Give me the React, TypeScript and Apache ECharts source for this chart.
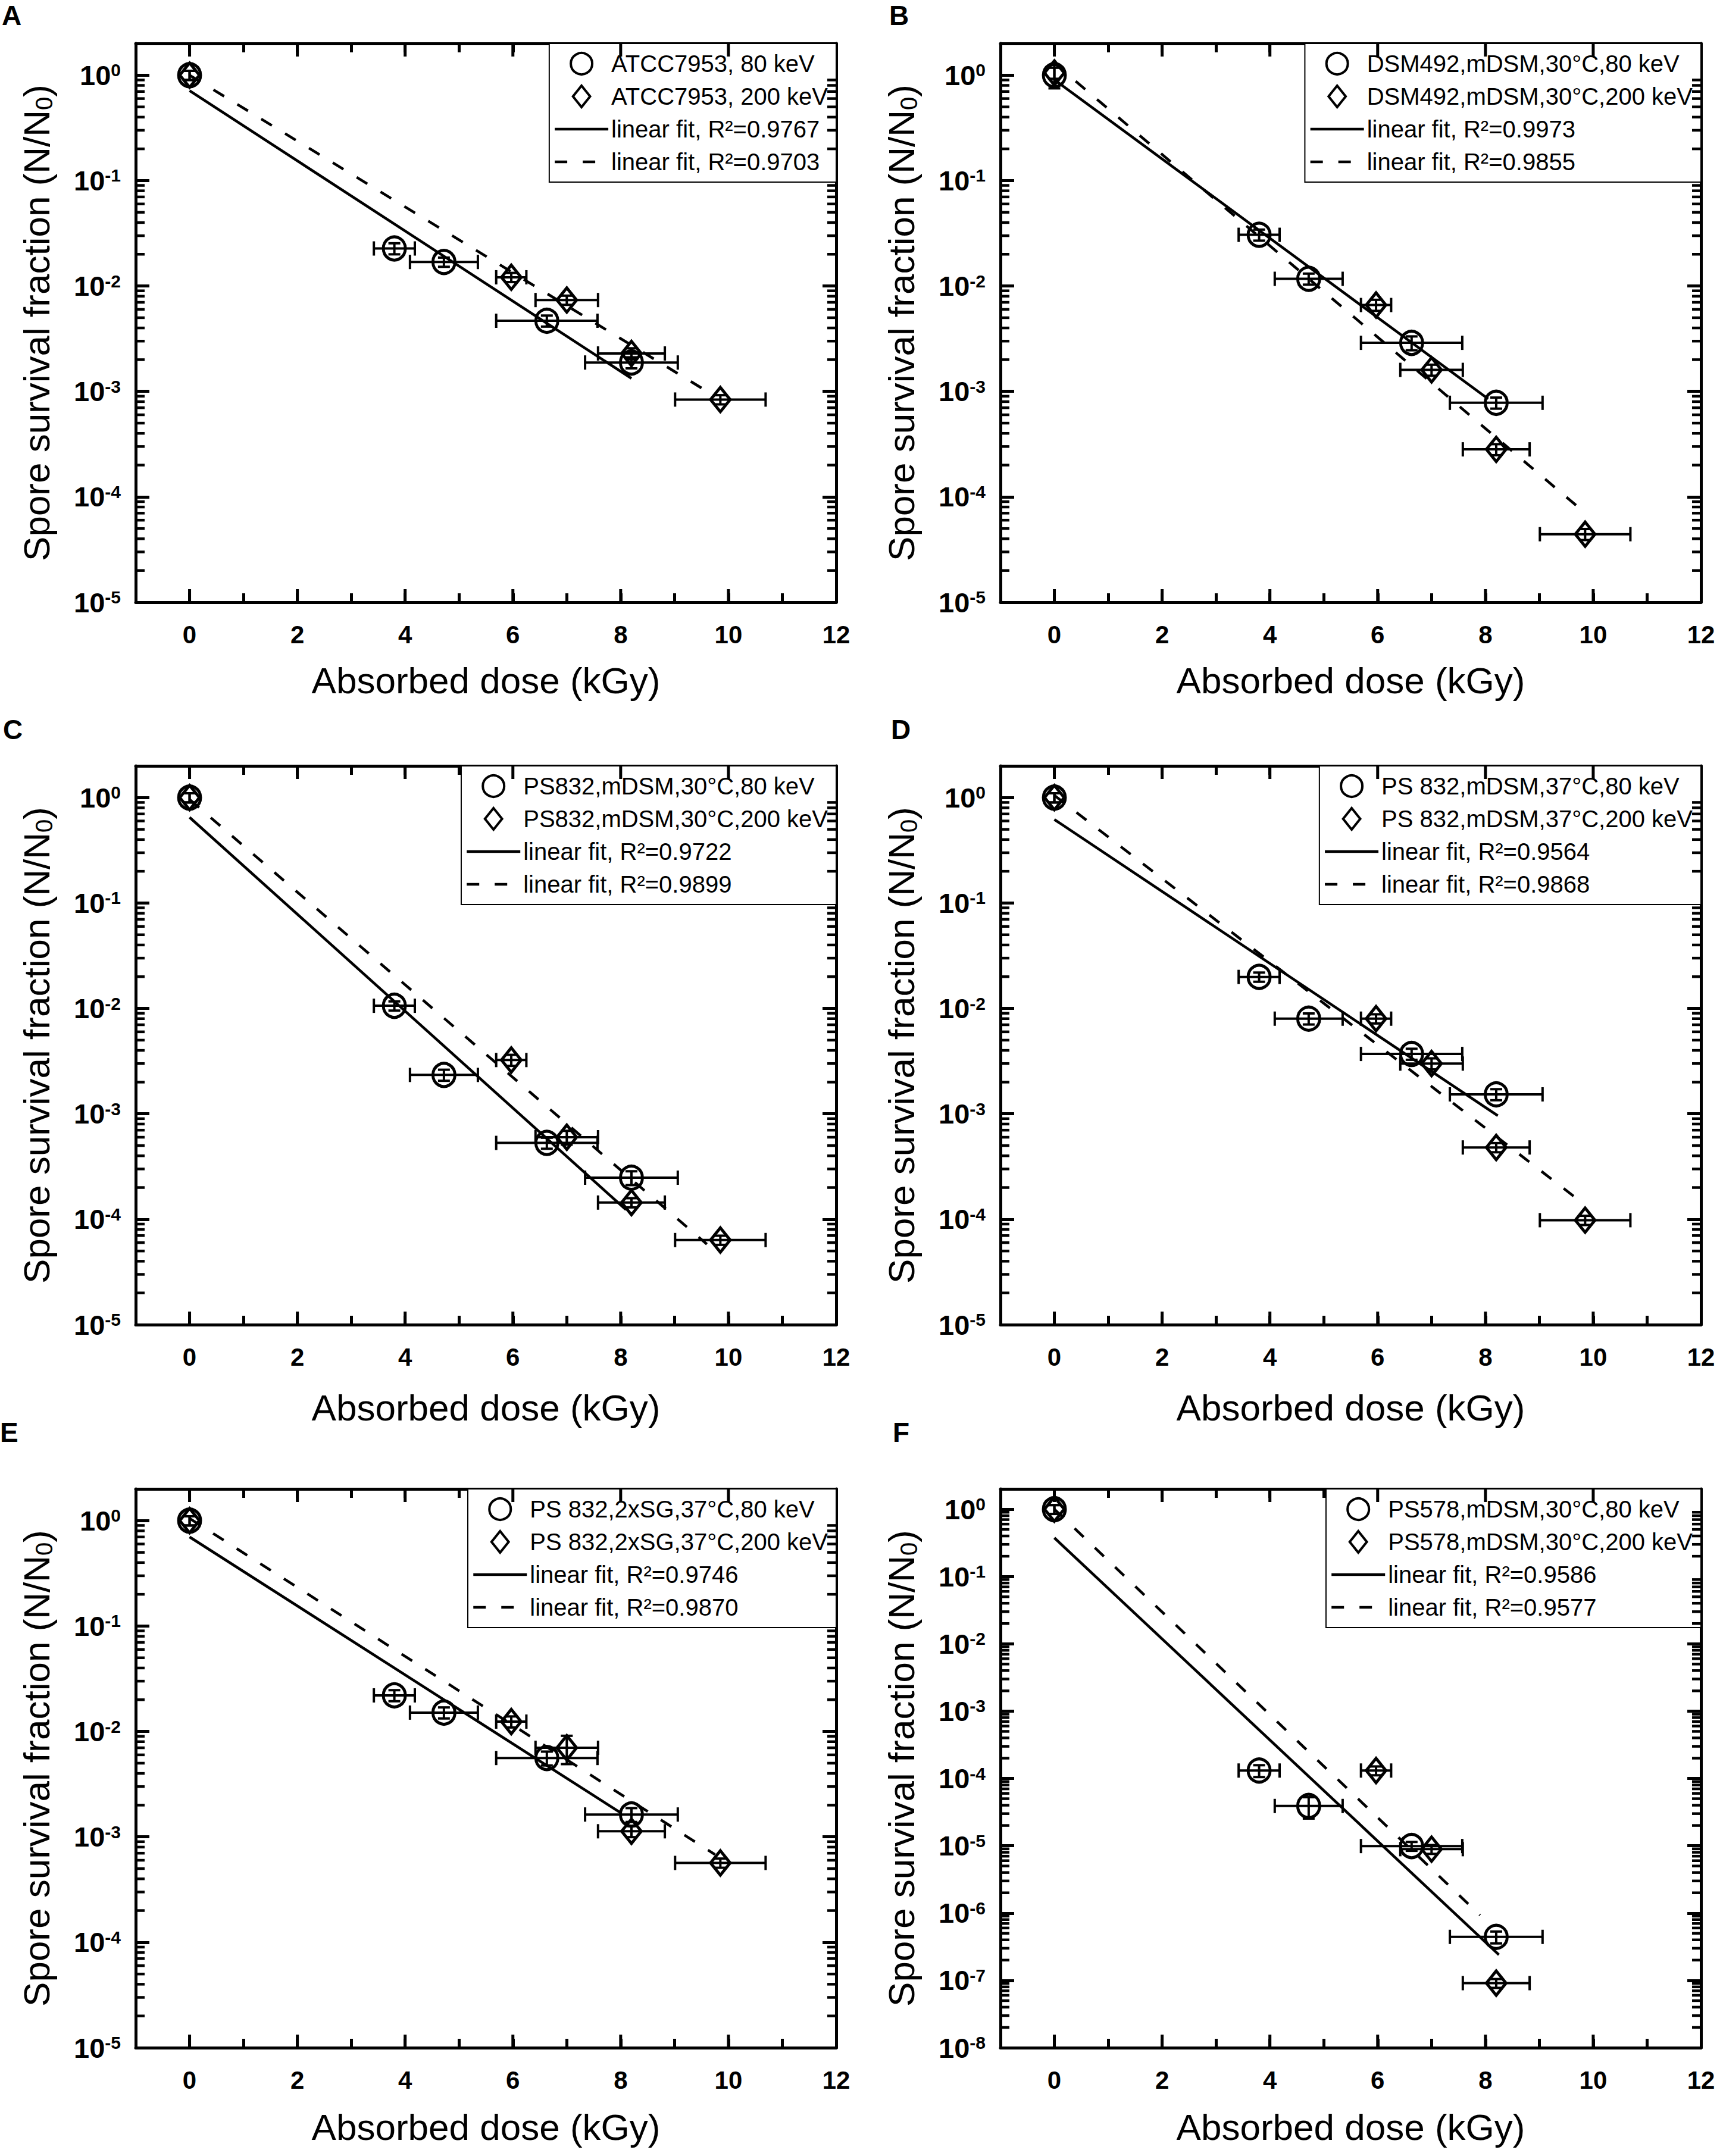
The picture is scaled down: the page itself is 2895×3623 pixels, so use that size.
import React, { useEffect, useRef } from 'react';
import * as echarts from 'echarts';

const W = 2895;
const H = 3623;
const FONT = '"Liberation Sans", Arial, Helvetica, sans-serif';

// Layout of the six plot boxes (pixels)
const COLS = [228, 1681];
const ROWS = [73, 1287, 2502];
const PW = 1177;
const PH = 939;
const X_NAME_GAP = [100, 108, 102];
const LETTER_POS = [[3, 3], [1494, 3], [5, 1203], [1497, 1203], [0, 2384], [1500, 2384]];

// Absorbed doses (kGy) and their horizontal errors
const DOSE_80 = [0, 3.8, 4.72, 6.63, 8.2];
const DOSE_80_ERR = [0, 0.38, 0.63, 0.94, 0.86];
const DOSE_200 = [0, 5.97, 7.0, 8.2, 9.85];
const DOSE_200_ERR = [0, 0.28, 0.58, 0.62, 0.84];
const DOSE_200_F = [0, 5.97, 7.0, 8.2];
const DOSE_200_F_ERR = [0, 0.28, 0.58, 0.62];

// Axis ticks
const X_MAJOR = [0, 2, 4, 6, 8, 10];
const MINOR_MANTISSA = [2, 3, 4, 5, 6, 7, 8, 9];
const DECADES_5 = [-5, -4, -3, -2, -1];
const DECADES_8 = [-8, -7, -6, -5, -4, -3, -2, -1];

// Panel A
const A_NAMES = ['ATCC7953, 80 keV', 'ATCC7953, 200 keV'];
const A_80 = [1.0, 0.0227, 0.0169, 0.00468, 0.00188];
const A_80_YERR = [0.1, 0.12, 0.1, 0.12, 0.12];
const A_200 = [1.0, 0.0121, 0.00736, 0.00229, 0.000837];
const A_200_YERR = [0.1, 0.1, 0.1, 0.12, 0.1];
const A_FIT_80 = [[0, 0.713], [8.2, 0.00133]];
const A_FIT_200 = [[0, 1.0], [9.75, 0.0009]];
const A_R2 = ['0.9767', '0.9703'];

// Panel B
const B_NAMES = ['DSM492,mDSM,30°C,80 keV', 'DSM492,mDSM,30°C,200 keV'];
const B_80 = [1.0, 0.0306, 0.0117, 0.00289, 0.00078];
const B_80_YERR = [0.25, 0.12, 0.12, 0.15, 0.12];
const B_200 = [1.05, 0.0066, 0.0016, 0.000282, 0.0000442];
const B_200_YERR = [0.12, 0.12, 0.12, 0.12, 0.12];
const B_FIT_80 = [[0, 0.906], [8.05, 0.00085]];
const B_FIT_200 = [[0, 1.3], [9.72, 0.00008]];
const B_R2 = ['0.9973', '0.9855'];

// Panel C
const C_NAMES = ['PS832,mDSM,30°C,80 keV', 'PS832,mDSM,30°C,200 keV'];
const C_80 = [1.0, 0.0106, 0.00234, 0.00053, 0.000248];
const C_80_YERR = [0.1, 0.1, 0.12, 0.12, 0.15];
const C_200 = [1.0, 0.00324, 0.0006, 0.000144, 0.0000635];
const C_200_YERR = [0.1, 0.12, 0.15, 0.1, 0.1];
const C_FIT_80 = [[0, 0.65], [8.1, 0.000123]];
const C_FIT_200 = [[0, 0.96], [9.6, 0.000058]];
const C_R2 = ['0.9722', '0.9899'];

// Panel D
const D_NAMES = ['PS 832,mDSM,37°C,80 keV', 'PS 832,mDSM,37°C,200 keV'];
const D_80 = [1.0, 0.0199, 0.008, 0.0037, 0.00153];
const D_80_YERR = [0.1, 0.1, 0.12, 0.12, 0.12];
const D_200 = [1.0, 0.008, 0.003, 0.00048, 0.000098];
const D_200_YERR = [0.1, 0.1, 0.12, 0.1, 0.1];
const D_FIT_80 = [[0, 0.62], [8.23, 0.00096]];
const D_FIT_200 = [[0, 1.05], [9.83, 0.000139]];
const D_R2 = ['0.9564', '0.9868'];

// Panel E
const E_NAMES = ['PS 832,2xSG,37°C,80 keV', 'PS 832,2xSG,37°C,200 keV'];
const E_80 = [1.0, 0.022, 0.0151, 0.0056, 0.00163];
const E_80_YERR = [0.1, 0.12, 0.12, 0.15, 0.15];
const E_200 = [1.0, 0.0124, 0.007, 0.00113, 0.000566];
const E_200_YERR = [0.1, 0.12, 0.3, 0.12, 0.1];
const E_FIT_80 = [[0, 0.7], [8.01, 0.00168]];
const E_FIT_200 = [[0, 1.05], [9.75, 0.00068]];
const E_R2 = ['0.9746', '0.9870'];

// Panel F
const F_NAMES = ['PS578,mDSM,30°C,80 keV', 'PS578,mDSM,30°C,200 keV'];
const F_80 = [1.0, 0.000131, 0.000039, 0.0000099, 0.000000443];
const F_80_YERR = [0.15, 0.2, 0.35, 0.15, 0.2];
const F_200 = [1.0, 0.000131, 0.0000089, 0.000000091];
const F_200_YERR = [0.15, 0.15, 0.15, 0.15];
const F_FIT_80 = [[0, 0.375], [8.25, 0.00000024]];
const F_FIT_200 = [[0, 1.0], [7.9, 0.00000093]];
const F_R2 = ['0.9586', '0.9577'];

type Panel = {
  letter: string;
  names: string[];
  d80: number[]; d80e: number[]; s80: number[]; s80e: number[];
  d200: number[]; d200e: number[]; s200: number[]; s200e: number[];
  fit80: number[][]; fit200: number[][]; r2: string[];
  yMin: number; decades: number[];
};

const PANELS: Panel[] = [
  { letter: 'A', names: A_NAMES, d80: DOSE_80, d80e: DOSE_80_ERR, s80: A_80, s80e: A_80_YERR, d200: DOSE_200, d200e: DOSE_200_ERR, s200: A_200, s200e: A_200_YERR, fit80: A_FIT_80, fit200: A_FIT_200, r2: A_R2, yMin: 1e-5, decades: DECADES_5 },
  { letter: 'B', names: B_NAMES, d80: DOSE_80, d80e: DOSE_80_ERR, s80: B_80, s80e: B_80_YERR, d200: DOSE_200, d200e: DOSE_200_ERR, s200: B_200, s200e: B_200_YERR, fit80: B_FIT_80, fit200: B_FIT_200, r2: B_R2, yMin: 1e-5, decades: DECADES_5 },
  { letter: 'C', names: C_NAMES, d80: DOSE_80, d80e: DOSE_80_ERR, s80: C_80, s80e: C_80_YERR, d200: DOSE_200, d200e: DOSE_200_ERR, s200: C_200, s200e: C_200_YERR, fit80: C_FIT_80, fit200: C_FIT_200, r2: C_R2, yMin: 1e-5, decades: DECADES_5 },
  { letter: 'D', names: D_NAMES, d80: DOSE_80, d80e: DOSE_80_ERR, s80: D_80, s80e: D_80_YERR, d200: DOSE_200, d200e: DOSE_200_ERR, s200: D_200, s200e: D_200_YERR, fit80: D_FIT_80, fit200: D_FIT_200, r2: D_R2, yMin: 1e-5, decades: DECADES_5 },
  { letter: 'E', names: E_NAMES, d80: DOSE_80, d80e: DOSE_80_ERR, s80: E_80, s80e: E_80_YERR, d200: DOSE_200, d200e: DOSE_200_ERR, s200: E_200, s200e: E_200_YERR, fit80: E_FIT_80, fit200: E_FIT_200, r2: E_R2, yMin: 1e-5, decades: DECADES_5 },
  { letter: 'F', names: F_NAMES, d80: DOSE_80, d80e: DOSE_80_ERR, s80: F_80, s80e: F_80_YERR, d200: DOSE_200_F, d200e: DOSE_200_F_ERR, s200: F_200, s200e: F_200_YERR, fit80: F_FIT_80, fit200: F_FIT_200, r2: F_R2, yMin: 1e-8, decades: DECADES_8 },
];

const DASH = [21, 26];
const LINE_W = 4.5;
const DIAMOND_ICON = 'path://M16,0L32,20L16,40L0,20Z';

function errRender(params: any, api: any) {
  const x = api.value(0);
  const y = api.value(1);
  const xl = api.value(2);
  const xh = api.value(3);
  const yl = api.value(4);
  const yh = api.value(5);
  const st = { stroke: '#000', lineWidth: 4 };
  const CAP = 12;
  const children: any[] = [];
  if (xh > xl) {
    const a = api.coord([xl, y]);
    const b = api.coord([xh, y]);
    children.push({ type: 'line', shape: { x1: a[0], y1: a[1], x2: b[0], y2: b[1] }, style: st });
    children.push({ type: 'line', shape: { x1: a[0], y1: a[1] - CAP, x2: a[0], y2: a[1] + CAP }, style: st });
    children.push({ type: 'line', shape: { x1: b[0], y1: b[1] - CAP, x2: b[0], y2: b[1] + CAP }, style: st });
  }
  if (yh > yl) {
    const a = api.coord([x, yl]);
    const b = api.coord([x, yh]);
    const cap = 10;
    children.push({ type: 'line', shape: { x1: a[0], y1: a[1], x2: b[0], y2: b[1] }, style: st });
    children.push({ type: 'line', shape: { x1: a[0] - cap, y1: a[1], x2: a[0] + cap, y2: a[1] }, style: st });
    children.push({ type: 'line', shape: { x1: b[0] - cap, y1: b[1], x2: b[0] + cap, y2: b[1] }, style: st });
  }
  return { type: 'group', children };
}

function xTickRender(params: any, api: any) {
  const cs = params.coordSys;
  const px = api.coord([api.value(0), 1])[0];
  const st = { stroke: '#000', lineWidth: 5 };
  const yb = cs.y + cs.height;
  return {
    type: 'group',
    children: [
      { type: 'line', shape: { x1: px, y1: yb, x2: px, y2: yb - 22 }, style: st },
      { type: 'line', shape: { x1: px, y1: cs.y, x2: px, y2: cs.y + 22 }, style: st },
    ],
  };
}

function yMinorRender(params: any, api: any) {
  const cs = params.coordSys;
  const py = api.coord([0, api.value(1)])[1];
  const st = { stroke: '#000', lineWidth: 4.5 };
  const xr = cs.x + cs.width;
  return {
    type: 'group',
    children: [
      { type: 'line', shape: { x1: cs.x, y1: py, x2: cs.x + 15, y2: py }, style: st },
      { type: 'line', shape: { x1: xr, y1: py, x2: xr - 15, y2: py }, style: st },
    ],
  };
}

function yLabel(v: number) {
  const e = Math.log10(v);
  const r = Math.round(e);
  if (Math.abs(e - r) > 1e-6) return '';
  return `{b|10}{s|${r}}`;
}

function buildOption() {
  const grid: any[] = [];
  const xAxis: any[] = [];
  const yAxis: any[] = [];
  const series: any[] = [];
  const legend: any[] = [];
  const title: any[] = [];

  PANELS.forEach((p, i) => {
    const col = i % 2;
    const row = Math.floor(i / 2);
    const left = COLS[col];
    const top = ROWS[row];
    grid.push({ left, top, width: PW, height: PH, containLabel: false });

    const axisLine = { show: true, onZero: false, lineStyle: { color: '#000', width: 5 } };
    const xBase = {
      type: 'value', gridIndex: i, min: -1, max: 12, interval: 1,
      axisLine,
      axisTick: { show: true, inside: true, length: 15, lineStyle: { color: '#000', width: 5 } },
      splitLine: { show: false },
    };
    xAxis.push({
      ...xBase, position: 'bottom',
      axisLabel: {
        formatter: (v: number) => (v >= 0 && v % 2 === 0 ? String(v) : ''),
        fontSize: 42, fontWeight: 'bold', fontFamily: FONT, color: '#000', margin: 33,
      },
      name: 'Absorbed dose (kGy)', nameLocation: 'middle', nameGap: X_NAME_GAP[row],
      nameTextStyle: { fontSize: 62, fontFamily: FONT, color: '#000' },
    });
    xAxis.push({ ...xBase, position: 'top', axisLabel: { show: false } });

    const yBase = {
      type: 'log', logBase: 10, gridIndex: i, min: p.yMin, max: 2,
      axisLine,
      axisTick: { show: true, inside: true, length: 23, lineStyle: { color: '#000', width: 5 } },
      splitLine: { show: false },
      minorTick: { show: false },
    };
    yAxis.push({
      ...yBase, position: 'left',
      axisLabel: {
        formatter: yLabel, margin: 25,
        rich: {
          b: { fontSize: 47, fontWeight: 'bold', fontFamily: FONT, color: '#000' },
          s: { fontSize: 30, fontWeight: 'bold', fontFamily: FONT, color: '#000', verticalAlign: 'top' },
        },
      },
      name: 'Spore survival fraction (N/N{sub|0})', nameLocation: 'middle', nameGap: 134,
      nameTextStyle: {
        fontSize: 62, fontFamily: FONT, color: '#000', lineHeight: 66,
        rich: { sub: { fontSize: 40, fontFamily: FONT, color: '#000', verticalAlign: 'bottom', lineHeight: 44 } },
      },
    });
    yAxis.push({ ...yBase, position: 'right', axisLabel: { show: false } });

    const xi = 2 * i;
    const yi = 2 * i;
    const fitName80 = `linear fit, R²=${p.r2[0]}`;
    const fitName200 = `linear fit, R²=${p.r2[1]}`;

    series.push({
      type: 'custom', name: `xticks-${p.letter}`, xAxisIndex: xi, yAxisIndex: yi,
      data: X_MAJOR.map((v) => [v, 1]), encode: { x: 0, y: 1 }, renderItem: xTickRender, silent: true, z: 5, clip: false,
    });
    const minors: number[][] = [];
    p.decades.forEach((d) => MINOR_MANTISSA.forEach((m) => minors.push([0, m * Math.pow(10, d)])));
    series.push({
      type: 'custom', name: `yminor-${p.letter}`, xAxisIndex: xi, yAxisIndex: yi,
      data: minors, encode: { x: 0, y: 1 }, renderItem: yMinorRender, silent: true, z: 5, clip: false,
    });

    series.push({
      type: 'line', name: fitName80, xAxisIndex: xi, yAxisIndex: yi, data: p.fit80,
      symbol: 'none', showSymbol: false, z: 2,
      itemStyle: { color: '#000' },
      lineStyle: { color: '#000', width: LINE_W, type: 'solid' },
    });
    series.push({
      type: 'line', name: fitName200, xAxisIndex: xi, yAxisIndex: yi, data: p.fit200,
      symbol: 'none', showSymbol: false, z: 2,
      itemStyle: { color: '#000' },
      lineStyle: { color: '#000', width: LINE_W, type: DASH },
    });

    series.push({
      type: 'custom', name: `err80-${p.letter}`, xAxisIndex: xi, yAxisIndex: yi,
      data: p.d80.map((x, k) => [x, p.s80[k], x - p.d80e[k], x + p.d80e[k], p.s80[k] * (1 - p.s80e[k]), p.s80[k] * (1 + p.s80e[k])]),
      encode: { x: 0, y: 1 }, renderItem: errRender, silent: true, z: 3, clip: false,
    });
    series.push({
      type: 'custom', name: `err200-${p.letter}`, xAxisIndex: xi, yAxisIndex: yi,
      data: p.d200.map((x, k) => [x, p.s200[k], x - p.d200e[k], x + p.d200e[k], p.s200[k] * (1 - p.s200e[k]), p.s200[k] * (1 + p.s200e[k])]),
      encode: { x: 0, y: 1 }, renderItem: errRender, silent: true, z: 3, clip: false,
    });

    series.push({
      type: 'scatter', name: p.names[0], xAxisIndex: xi, yAxisIndex: yi,
      data: p.d80.map((x, k) => [x, p.s80[k]]),
      symbol: 'circle', symbolSize: [37, 39], z: 4,
      itemStyle: { color: 'transparent', borderColor: '#000', borderWidth: 5, opacity: 1 },
    });
    series.push({
      type: 'scatter', name: p.names[1], xAxisIndex: xi, yAxisIndex: yi,
      data: p.d200.map((x, k) => [x, p.s200[k]]),
      symbol: 'diamond', symbolSize: [33, 41], z: 4,
      itemStyle: { color: 'transparent', borderColor: '#000', borderWidth: 5, opacity: 1 },
    });

    legend.push({
      show: true, orient: 'vertical', right: W - (left + PW), top,
      itemWidth: 90, itemHeight: 36, itemGap: 15,
      symbolKeepAspect: true,
      padding: [14, 14, 14, 7],
      backgroundColor: '#fff', borderColor: '#000', borderWidth: 2, borderRadius: 0,
      selectedMode: false,
      textStyle: { fontSize: 40, fontFamily: FONT, color: '#000' },
      data: [
        { name: p.names[0], icon: 'circle', itemStyle: { color: 'transparent', borderColor: '#000', borderWidth: 4 } },
        { name: p.names[1], icon: DIAMOND_ICON, itemStyle: { color: 'transparent', borderColor: '#000', borderWidth: 4 } },
        { name: fitName80, itemStyle: { color: 'transparent', borderColor: 'transparent', borderWidth: 0 }, lineStyle: { color: '#000', width: LINE_W, type: 'solid' } },
        { name: fitName200, itemStyle: { color: 'transparent', borderColor: 'transparent', borderWidth: 0 }, lineStyle: { color: '#000', width: LINE_W, type: DASH } },
      ],
    });

    title.push({
      text: p.letter, left: LETTER_POS[i][0], top: LETTER_POS[i][1], padding: 0,
      textStyle: { fontSize: 46, fontWeight: 'bold', fontFamily: FONT, color: '#000' },
    });
  });

  return {
    animation: false,
    backgroundColor: '#fff',
    textStyle: { fontFamily: FONT, color: '#000' },
    tooltip: { show: false },
    title, grid, xAxis, yAxis, series, legend,
  };
}

export default function App() {
  const ref = useRef<HTMLDivElement>(null);
  useEffect(() => {
    if (!ref.current) return;
    const chart = echarts.init(ref.current, null, { renderer: 'svg', width: W, height: H });
    chart.setOption(buildOption() as any);
    return () => chart.dispose();
  }, []);
  return (
    <div
      ref={ref}
      style={{ position: 'absolute', left: 0, top: 0, width: W, height: H, background: '#fff' }}
    />
  );
}
